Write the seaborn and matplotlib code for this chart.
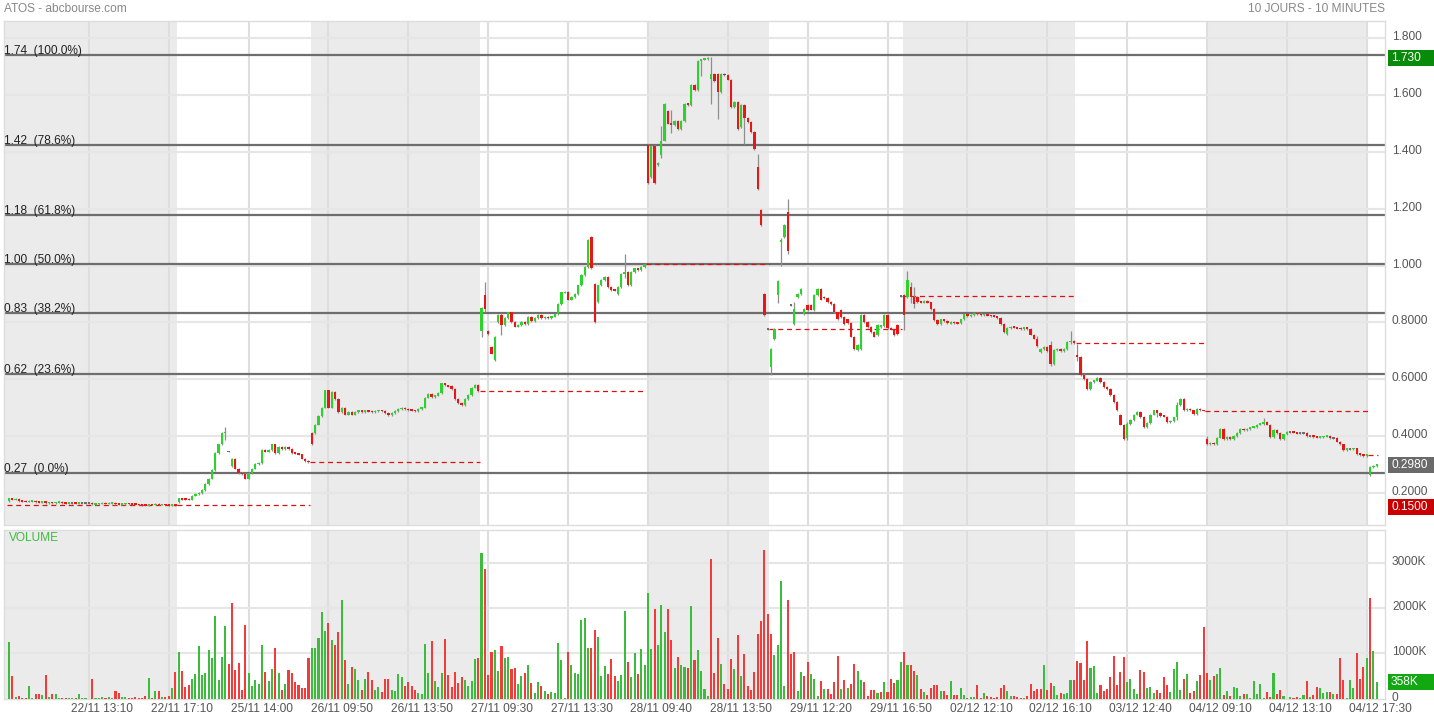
import numpy as np
import pandas as pd
import matplotlib
matplotlib.use("Agg")
import matplotlib.pyplot as plt
from matplotlib.patches import Rectangle
from matplotlib.transforms import ScaledTranslation
import seaborn as sns

# ------------------------------
# Data (ATOS, 10 days of 10-minute bars)
# ------------------------------
# closing price of each 10-minute bar, one list per trading day
close_2211 = [0.180, 0.176, 0.177, 0.172, 0.170, 0.169, 0.170, 0.171, 0.168, 0.167,
              0.168, 0.165, 0.166, 0.165, 0.166, 0.167, 0.165, 0.164, 0.165, 0.165,
              0.164, 0.165, 0.165, 0.165, 0.165, 0.160, 0.161, 0.162, 0.163, 0.162,
              0.163, 0.164, 0.161, 0.160, 0.161, 0.162, 0.161, 0.160, 0.159, 0.158,
              0.157, 0.156, 0.159, 0.158, 0.160, 0.158, 0.159, 0.158, 0.157, 0.158,
              0.157]
close_2511 = [0.180, 0.178, 0.177, 0.176, 0.190, 0.195, 0.200, 0.210, 0.230, 0.250,
              0.280, 0.340, 0.370, 0.410, 0.415, 0.345, 0.320, 0.285, 0.270, 0.265,
              0.250, 0.270, 0.285, 0.300, 0.305, 0.350, 0.345, 0.350, 0.370, 0.340,
              0.360, 0.355, 0.360, 0.355, 0.340, 0.338, 0.335, 0.320, 0.312, 0.308]
close_2611 = [0.370, 0.440, 0.470, 0.500, 0.560, 0.500, 0.555, 0.530, 0.485, 0.500,
              0.475, 0.485, 0.475, 0.485, 0.490, 0.485, 0.490, 0.487, 0.484, 0.488,
              0.490, 0.488, 0.480, 0.472, 0.480, 0.487, 0.495, 0.498, 0.495, 0.492,
              0.490, 0.488, 0.495, 0.500, 0.535, 0.548, 0.538, 0.542, 0.550, 0.585,
              0.578, 0.575, 0.565, 0.530, 0.515, 0.510, 0.530, 0.545, 0.570, 0.580,
              0.558]
close_2711 = [0.850, 0.848, 0.760, 0.690, 0.750, 0.826, 0.790, 0.815, 0.835, 0.800,
              0.785, 0.790, 0.800, 0.795, 0.820, 0.805, 0.815, 0.825, 0.815, 0.818,
              0.815, 0.820, 0.830, 0.865, 0.905, 0.906, 0.880, 0.890, 0.900, 0.930,
              0.967, 0.995, 1.090, 0.990, 0.800, 0.930, 0.950, 0.960, 0.925, 0.915,
              0.912, 0.925, 0.970, 0.977, 0.930, 0.977, 0.990, 0.985, 0.995, 1.005]
close_2811 = [1.290, 1.420, 1.290, 1.360, 1.440, 1.570, 1.500, 1.495, 1.510, 1.480,
              1.510, 1.570, 1.565, 1.635, 1.617, 1.720, 1.725, 1.728, 1.730, 1.675,
              1.650, 1.610, 1.675, 1.670, 1.655, 1.557, 1.575, 1.480, 1.565, 1.520,
              1.505, 1.470, 1.410, 1.270, 1.142, 0.826, 0.776]
close_2911 = [0.706, 0.776, 0.945, 1.090, 1.142, 1.050, 0.860, 0.847, 0.900, 0.918,
              0.847, 0.843, 0.845, 0.896, 0.918, 0.880, 0.885, 0.872, 0.865, 0.835,
              0.810, 0.818, 0.794, 0.797, 0.750, 0.707, 0.720, 0.826, 0.800, 0.784,
              0.766, 0.750, 0.790, 0.788, 0.826, 0.780, 0.775, 0.756, 0.758, 0.893]
close_0212 = [0.826, 0.950, 0.890, 0.865, 0.872, 0.870, 0.875, 0.870, 0.847, 0.808,
              0.794, 0.810, 0.805, 0.796, 0.800, 0.798, 0.797, 0.810, 0.828, 0.822,
              0.826, 0.832, 0.830, 0.826, 0.828, 0.824, 0.823, 0.820, 0.815, 0.795,
              0.766, 0.780, 0.784, 0.782, 0.780, 0.777, 0.782, 0.776, 0.757, 0.743,
              0.717, 0.707, 0.712, 0.700, 0.654, 0.703, 0.705, 0.700, 0.705, 0.730,
              0.735, 0.727]
close_0312 = [0.678, 0.615, 0.600, 0.566, 0.590, 0.595, 0.604, 0.590, 0.573, 0.566,
              0.545, 0.520, 0.492, 0.440, 0.390, 0.443, 0.457, 0.475, 0.485, 0.467,
              0.430, 0.445, 0.475, 0.490, 0.480, 0.470, 0.468, 0.450, 0.452, 0.465,
              0.510, 0.530, 0.490, 0.495, 0.490, 0.478, 0.495, 0.490, 0.489]
close_0412 = [0.372, 0.375, 0.372, 0.394, 0.425, 0.390, 0.397, 0.390, 0.400, 0.410,
              0.425, 0.420, 0.425, 0.430, 0.432, 0.440, 0.442, 0.450, 0.440, 0.397,
              0.420, 0.410, 0.390, 0.405, 0.414, 0.414, 0.412, 0.410, 0.410, 0.410,
              0.400, 0.400, 0.397, 0.395, 0.397, 0.398, 0.400, 0.393, 0.393, 0.380,
              0.370, 0.351, 0.355, 0.355, 0.356, 0.337, 0.334, 0.330, 0.334]
close_0512 = [0.290, 0.295, 0.298]

# volume of each bar, in thousands of shares
vol_2211 = [1254, 500, 36, 58, 22, 22, 275, 22, 100, 109, 72, 522, 36, 100, 100, 15, 5,
            5, 8, 3, 8, 94, 3, 3, 0, 428, 3, 15, 29, 3, 29, 15, 167, 123, 43, 43, 3, 8,
            29, 3, 8, 65, 450, 8, 160, 160, 43, 36, 65, 232, 580]
vol_2511 = [1037, 616, 254, 297, 428, 537, 1167, 529, 566, 1080, 884, 1812, 399, 906,
            1602, 761, 2110, 631, 790, 181, 1624, 566, 283, 399, 319, 1189, 580, 377,
            652, 1124, 566, 181, 319, 638, 558, 355, 304, 225, 239, 892]
vol_2611 = [1116, 1124, 1341, 1914, 1493, 1667, 1290, 1174, 1464, 2175, 841, 319, 703,
            652, 399, 188, 428, 580, 399, 181, 246, 145, 428, 428, 196, 167, 544, 471,
            283, 370, 275, 188, 130, 101, 1196, 566, 1276, 384, 261, 566, 1320, 515,
            261, 580, 341, 479, 413, 268, 392, 863, 884]
vol_2711 = [3212, 2849, 522, 1022, 1073, 609, 1160, 892, 921, 652, 681, 319, 507, 558,
            739, 341, 130, 355, 275, 160, 94, 138, 130, 1218, 848, 5, 1030, 739, 566,
            537, 1726, 1776, 1124, 1109, 1523, 1363, 500, 725, 537, 877, 500, 392, 522,
            1921, 812, 471, 1015, 537, 1095, 747]
vol_2811 = [2327, 1088, 1979, 1174, 2059, 1479, 1972, 1298, 681, 913, 732, 696, 674,
            2044, 848, 1073, 616, 210, 58, 3088, 573, 1327, 761, 319, 210, 877, 645,
            1392, 500, 972, 283, 196, 580, 1428, 1715, 3283, 1862]
vol_2911 = [1420, 957, 1178, 2598, 280, 2179, 986, 1016, 169, 589, 486, 795, 530, 434, 59,
            397, 199, 199, 103, 375, 942, 213, 412, 228, 324, 765, 611, 412, 375, 59,
            177, 177, 132, 140, 375, 140, 427, 339, 412, 810]
vol_0212 = [1030, 736, 747, 609, 522, 203, 145, 80, 239, 304, 297, 174, 167, 87, 384, 80,
            80, 225, 87, 15, 36, 36, 297, 7, 116, 51, 36, 22, 29, 232, 297, 167, 65, 51,
            29, 7, 7, 65, 319, 174, 210, 217, 732, 181, 333, 268, 80, 123, 94, 123, 406,
            406]
vol_0312 = [834, 783, 413, 1276, 667, 725, 123, 290, 174, 210, 471, 942, 297, 580, 913,
            370, 428, 210, 109, 623, 580, 225, 246, 123, 181, 123, 479, 304, 145, 660,
            812, 188, 428, 551, 130, 167, 392, 529, 1573]
vol_0412 = [558, 406, 507, 537, 667, 87, 174, 51, 246, 225, 65, 101, 101, 22, 384, 101,
            326, 22, 145, 36, 573, 109, 188, 65, 0, 43, 22, 43, 22, 72, 384, 43, 87, 254,
            232, 123, 152, 152, 94, 101, 892, 413, 3, 413, 239, 1000, 428, 696, 892]
vol_0512 = [2218, 1051, 358]

# bars whose open is not the previous close (gaps), bar index -> open
open_gaps = {0: 0.170, 51: 0.167, 66: 0.345, 67: 0.295, 91: 0.410, 92: 0.410,
             142: 0.770, 143: 0.895, 144: 0.770, 145: 0.713, 146: 0.667, 147: 0.800,
             174: 0.995, 175: 1.100, 176: 0.935, 177: 0.870, 183: 0.900,
             192: 1.424, 193: 1.310, 194: 1.420, 195: 1.355, 196: 1.390, 198: 1.545,
             211: 1.657, 213: 1.675, 214: 1.610, 220: 1.487, 225: 1.346, 226: 1.195,
             227: 0.900, 228: 0.776, 229: 0.643, 230: 0.741, 231: 0.896, 232: 1.083,
             233: 1.100, 234: 1.190, 235: 0.860, 236: 0.794, 237: 0.890, 239: 0.830,
             240: 0.860, 241: 0.860, 242: 0.843, 245: 0.890, 250: 0.843, 252: 0.810,
             255: 0.703, 256: 0.707, 261: 0.756, 262: 0.784, 267: 0.790, 268: 0.893,
             269: 0.896, 270: 0.890, 271: 0.925, 273: 0.890, 300: 0.760, 310: 0.696,
             313: 0.720, 318: 0.707, 321: 0.685, 334: 0.475, 335: 0.440, 336: 0.394,
             360: 0.390, 409: 0.263}
# visible shadows, bar index -> (low, high)
shadows = {65: (0.390, 0.430), 142: (0.750, 0.850), 143: (0.840, 0.940),
           148: (0.760, 0.830), 185: (0.960, 1.037), 196: (1.380, 1.487),
           199: (1.470, 1.545), 208: (1.670, 1.725), 211: (1.570, 1.730),
           213: (1.520, 1.675), 221: (1.430, 1.565), 225: (1.270, 1.390),
           229: (0.619, 0.706), 231: (0.870, 0.945), 232: (1.000, 1.093),
           234: (1.044, 1.230), 236: (0.794, 0.870), 269: (0.777, 0.896),
           270: (0.890, 0.977), 271: (0.870, 0.940), 272: (0.855, 0.920),
           309: (0.717, 0.750), 313: (0.650, 0.730), 319: (0.727, 0.766),
           321: (0.667, 0.720), 333: (0.492, 0.520), 336: (0.390, 0.445),
           345: (0.470, 0.490), 351: (0.460, 0.515), 360: (0.370, 0.395),
           377: (0.440, 0.460)}

prev_close_first_day = 0.157

fib_levels = [1.74, 1.425, 1.178, 1.005, 0.832, 0.617, 0.27]
fib_labels = ["1.74  (100.0%)", "1.42  (78.6%)", "1.18  (61.8%)", "1.00  (50.0%)",
              "0.83  (38.2%)", "0.62  (23.6%)", "0.27  (0.0%)"]

price_ticks = [0.2, 0.4, 0.6, 0.8, 1.0, 1.2, 1.4, 1.6, 1.8]
price_tick_labels = ["0.2000", "0.4000", "0.6000", "0.8000", "1.000", "1.200",
                     "1.400", "1.600", "1.800"]
vol_ticks = [0, 1000, 2000, 3000]
vol_tick_labels = ["0", "1000K", "2000K", "3000K"]

time_labels = ["22/11 13:10", "22/11 17:10", "25/11 14:00", "26/11 09:50", "26/11 13:50",
               "27/11 09:30", "27/11 13:30", "28/11 09:40", "28/11 13:50", "29/11 12:20",
               "29/11 16:50", "02/12 12:10", "02/12 16:10", "03/12 12:40", "04/12 09:10",
               "04/12 13:10", "04/12 17:30"]

badge_values = [1.730, 0.2980, 0.1500]
badge_labels = ["1.730", "0.2980", "0.1500"]
badge_colors = ["#0a8a0a", "#6a6a6a", "#c80000"]
last_volume = 358

# ------------------------------
# Assemble bars
# ------------------------------
day_closes = [close_2211, close_2511, close_2611, close_2711, close_2811,
              close_2911, close_0212, close_0312, close_0412, close_0512]
day_vols = [vol_2211, vol_2511, vol_2611, vol_2711, vol_2811,
            vol_2911, vol_0212, vol_0312, vol_0412, vol_0512]

closes = np.concatenate(day_closes)
volume = np.concatenate(day_vols)
n = len(closes)
idx = np.arange(n)
day_len = [len(d) for d in day_closes]
day_first = np.cumsum([0] + day_len[:-1])
day_last = day_first + np.array(day_len) - 1

prev_close = np.r_[prev_close_first_day, closes[:-1]]
opens = prev_close.copy()
for b, v in open_gaps.items():
    opens[b] = v
body_lo = np.minimum(opens, closes)
body_hi = np.maximum(opens, closes)
low = body_lo.copy()
high = body_hi.copy()
for b, (l, h) in shadows.items():
    low[b] = min(l, body_lo[b])
    high[b] = max(h, body_hi[b])

GREEN = "#2ad42a"
RED = "#ec1515"
VGREEN = "#3cbc3c"
VRED = "#f53a3a"
candle_col = np.where(closes > opens + 1e-9, GREEN,
                      np.where(closes < opens - 1e-9, RED, "#6e6e6e"))
vol_df = pd.DataFrame({"bar": idx, "vol": volume,
                       "dir": np.where(closes >= prev_close, "up", "down")})

# ------------------------------
# Figure
# ------------------------------
sns.set_style("white")
plt.rcParams["font.family"] = ["Liberation Sans", "DejaVu Sans"]

W, H = 1434, 720
fig = plt.figure(figsize=(W / 100, H / 100), dpi=100)


def fx(px):
    return px / W


def fy(py):
    return 1 - py / H


ax_p = fig.add_axes([fx(4), fy(525), fx(1385) - fx(4), fy(21) - fy(525)])
ax_v = fig.add_axes([fx(4), fy(699), fx(1385) - fx(4), fy(530) - fy(699)])

XMIN, XMAX = -1.5, 413.5
grid_bars = np.arange(24, 409, 24)

for ax in (ax_p, ax_v):
    ax.set_xlim(XMIN, XMAX)
    # alternate day shading
    for d in range(0, len(day_len), 2):
        x0 = XMIN if d == 0 else day_first[d] - 0.3
        ax.axvspan(x0, day_last[d] + 0.4, color="#ebebeb", lw=0, zorder=0)
    for g in grid_bars:
        ax.axvline(g, color="#dedede", lw=1.5, zorder=1)
    for s in ax.spines.values():
        s.set_color("#dddddd")
        s.set_linewidth(1)

# ---- price panel ----
ax_p.set_ylim(0.0863, 1.861)
for v in price_ticks:
    ax_p.axhline(v, color="#e6e6e6", lw=1.5, zorder=1)
for v, lab in zip(fib_levels, fib_labels):
    ax_p.axhline(v, color="#6e6e6e", lw=1.6, zorder=2)
    ax_p.annotate(lab, xy=(0, v), xycoords=("axes fraction", "data"),
                  xytext=(0, -1.5), textcoords="offset points",
                  ha="left", va="bottom", fontsize=8.6, color="#222222", zorder=6)

# previous close of each day, dashed
for d in range(len(day_len)):
    level = prev_close_first_day if d == 0 else closes[day_last[d - 1]]
    x0 = XMIN + 0.8 if d == 0 else day_first[d] - 0.5
    ax_p.hlines(level, x0, day_last[d] + 0.5, colors="#e01010",
                linestyles=(0, (4, 3)), lw=0.9, zorder=3)

ax_p.vlines(idx, low - 0.003, high + 0.003, color="#8e8e8e", lw=0.9, zorder=4)
body_h = np.maximum(body_hi - body_lo, 0.006)
body_b = (body_hi + body_lo) / 2 - body_h / 2
ax_p.bar(idx, body_h, bottom=body_b, width=0.7, color=candle_col, lw=0, zorder=5)

ax_p.yaxis.tick_right()
ax_p.set_yticks(price_ticks)
ax_p.set_yticklabels(price_tick_labels)
ax_p.set_xticks([])
ax_p.tick_params(axis="y", length=0, pad=5, labelsize=8.6, labelcolor="#555555")

# ---- volume panel ----
for v in vol_ticks[1:]:
    ax_v.axhline(v, color="#e6e6e6", lw=1.5, zorder=1)
sns.barplot(data=vol_df, x="bar", y="vol", hue="dir",
            palette={"up": VGREEN, "down": VRED}, native_scale=True, dodge=False,
            width=0.62, saturation=1, errorbar=None, legend=False, ax=ax_v,
            linewidth=0, edgecolor="none", zorder=3)
ax_v.set_xlim(XMIN, XMAX)
ax_v.set_ylim(-11, 3720)
ax_v.set_xlabel("")
ax_v.set_ylabel("")
ax_v.yaxis.tick_right()
ax_v.set_yticks(vol_ticks)
ax_v.set_yticklabels(vol_tick_labels)
ax_v.set_xticks(grid_bars + 4.06)
ax_v.set_xticklabels(time_labels)
ax_v.tick_params(axis="y", length=0, pad=5, labelsize=8.6, labelcolor="#555555")
ax_v.tick_params(axis="x", length=0, pad=3, labelsize=8.6, labelcolor="#555555")
ax_v.text(fx(9) - fx(4), 0.95, "VOLUME", transform=ax_v.transAxes,
          fontsize=8.6, color="#3dbb3d", va="center")

# right-axis labels sit a little above their grid line
lift = ScaledTranslation(0, 2.5 / 100, fig.dpi_scale_trans)
for lbl in ax_p.get_yticklabels() + ax_v.get_yticklabels():
    lbl.set_transform(lbl.get_transform() + lift)

# ---- header ----
fig.text(fx(4), fy(9), "ATOS - abcbourse.com", fontsize=8.6, color="#888888", va="center")
fig.text(fx(1385), fy(9), "10 JOURS - 10 MINUTES", fontsize=8.6, color="#888888",
         va="center", ha="right")


# ---- value badges on the right axis ----
def badge(ax, val, text, fc):
    y_disp = ax.transData.transform((0, val))[1]
    y_fig = y_disp / fig.bbox.height
    h = 16 / H
    fig.add_artist(Rectangle((fx(1388), y_fig - h / 2), fx(46), h,
                             transform=fig.transFigure, fc=fc, ec="none"))
    fig.text(fx(1391), y_fig, text, color="white", fontsize=8.6, va="center")


for v, lab, c in zip(badge_values, badge_labels, badge_colors):
    badge(ax_p, v, lab, c)
badge(ax_v, last_volume, f"{last_volume}K", "#12a812")

fig.savefig("out.png", dpi=100)
